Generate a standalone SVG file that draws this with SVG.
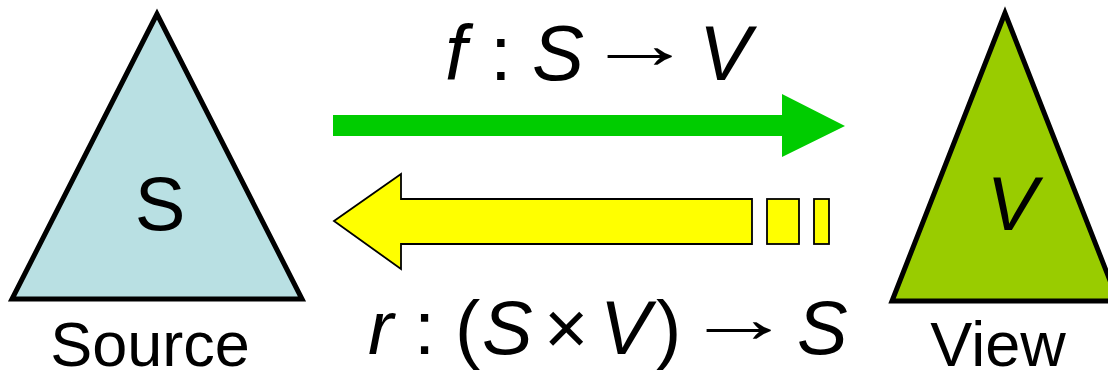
<svg xmlns="http://www.w3.org/2000/svg" width="1108" height="377" viewBox="0 0 1108 377">
<style>
.t{font-family:"Liberation Sans",Arial,sans-serif;fill:#000}
.i{font-style:italic}
.a{font-size:70px;text-anchor:middle}
.tri{stroke:#000;stroke-width:5;stroke-linejoin:miter}
.ylw{fill:#ffff00;stroke:#000;stroke-width:1.8}
</style>
<rect width="1108" height="377" fill="#fff"/>
<g id="source">
<polygon class="tri" points="157,14 12,299 302,299" fill="#b9e0e3"/>
<text class="t" x="160" y="230" font-size="76" text-anchor="middle">S</text>
<text class="t" x="150" y="366" font-size="63" text-anchor="middle">Source</text>
</g>
<g id="view">
<polygon class="tri" points="1005,13 892,301 1118,301" fill="#99cc00"/>
<text class="t i" x="1012" y="230" font-size="76" text-anchor="middle">V</text>
<text class="t" x="998" y="366" font-size="63" text-anchor="middle">View</text>
</g>
<g id="connectors">
<g id="forward">
<polygon points="333,115 782,115 782,94 845,126 782,157 782,136 333,136" fill="#00cc00"/>
<text class="t" y="80" font-size="78"><tspan class="i" x="445">f</tspan><tspan x="490">:</tspan><tspan class="i" x="532">S</tspan><tspan class="i" x="699">V</tspan></text>
<text class="t a" transform="translate(640,68) scale(1.55,1)">→</text>
</g>
<g id="backward">
<polygon class="ylw" points="334,221 401,174 401,199 752,199 752,244 401,244 401,269"/>
<rect class="ylw" x="767" y="199" width="32" height="45"/>
<rect class="ylw" x="814" y="199" width="15" height="45"/>
<text class="t" y="354" font-size="76"><tspan class="i" x="368">r</tspan><tspan x="414">:</tspan><tspan x="455">(</tspan><tspan class="i" x="482">S</tspan><tspan x="544">×</tspan><tspan class="i" x="600">V</tspan><tspan x="656">)</tspan><tspan class="i" x="797">S</tspan></text>
<text class="t a" transform="translate(739,342) scale(1.55,1)">→</text>
</g>
</g>
</svg>
